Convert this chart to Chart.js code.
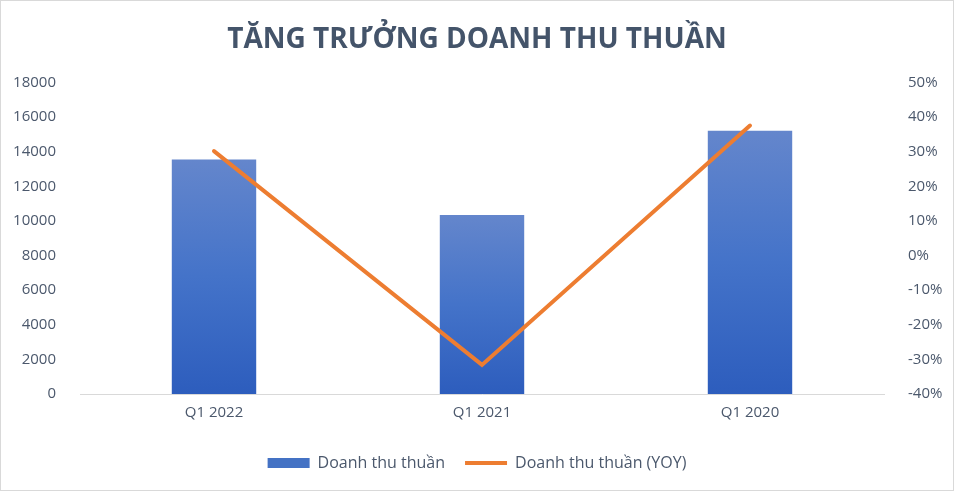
<!DOCTYPE html>
<html>
<head>
<meta charset="utf-8">
<script src="https://cdn.jsdelivr.net/npm/chart.js@4"></script>
<style>
  html, body { margin: 0; padding: 0; background: #fff; }
  #wrap { width: 954px; height: 491px; }
</style>
</head>
<body>
<div id="wrap"><canvas id="revenueChart" width="954" height="491"></canvas></div>
<script>
const categories = ["Q1 2022", "Q1 2021", "Q1 2020"];
const revenue = [13550, 10350, 15220];
const revenueYoy = [30.2, -31.6, 37.6];
const leftTicks = [0, 18000, 2000];
const rightTicks = [-40, 50, 10];

const FONT = "'Open Sans', 'Noto Sans', sans-serif";
const TEXT = "#4b586c";

// white background + thin frame like the office chart
const frame = {
  id: "frame",
  beforeDraw(chart) {
    const c = chart.ctx;
    c.save();
    c.fillStyle = "#fff";
    c.fillRect(0, 0, chart.width, chart.height);
    c.strokeStyle = "#d9d9d9";
    c.lineWidth = 1;
    c.strokeRect(0.5, 0.5, chart.width - 1, chart.height - 1);
    c.restore();
  }
};

const barFill = ctx => {
  const chart = ctx.chart;
  if (!chart.chartArea || ctx.type !== "data") return "#4472c4";
  const y = chart.scales.y;
  const top = y.getPixelForValue(ctx.raw);
  const bottom = y.getPixelForValue(0);
  const g = chart.ctx.createLinearGradient(0, top, 0, bottom);
  g.addColorStop(0, "#6486cc");
  g.addColorStop(0.5, "#4473c9");
  g.addColorStop(1, "#2d5dbd");
  return g;
};

new Chart(document.getElementById("revenueChart"), {
  type: "bar",
  data: {
    labels: categories,
    datasets: [
      {
        type: "line",
        label: "Doanh thu thuần (YOY)",
        data: revenueYoy,
        yAxisID: "y1",
        borderColor: "#ed7d31",
        backgroundColor: "#ed7d31",
        borderWidth: 4,
        borderCapStyle: "round",
        borderJoinStyle: "miter",
        pointRadius: 0,
        pointStyle: "line",
        tension: 0,
        order: 0
      },
      {
        label: "Doanh thu thuần",
        data: revenue,
        yAxisID: "y",
        backgroundColor: barFill,
        borderWidth: 0,
        pointStyle: "rect",
        categoryPercentage: 1,
        barPercentage: 0.315,
        order: 1
      }
    ]
  },
  plugins: [frame],
  options: {
    responsive: false,
    animation: false,
    layout: { padding: { left: 0, right: 0, top: 23, bottom: 10 } },
    plugins: {
      title: {
        display: true,
        text: "TĂNG TRƯỞNG DOANH THU THUẦN",
        color: "#44546a",
        font: { family: FONT, size: 28, weight: "bold" },
        padding: { top: 0, bottom: 26 }
      },
      legend: {
        position: "bottom",
        reverse: true,
        labels: {
          color: TEXT,
          font: { family: FONT, size: 16 },
          usePointStyle: true,
          pointStyleWidth: 42,
          boxHeight: 10,
          padding: 20,
          generateLabels(chart) {
            const items = Chart.defaults.plugins.legend.labels.generateLabels(chart);
            items.forEach(it => {
              if (it.pointStyle === "rect") { it.fillStyle = "#4472c4"; it.lineWidth = 0; }
              else { it.lineWidth = 4; it.strokeStyle = "#ed7d31"; }
            });
            return items;
          }
        }
      },
      tooltip: { enabled: false }
    },
    scales: {
      x: {
        grid: { display: false },
        border: { display: true, color: "#d9d9d9", width: 1 },
        ticks: { color: TEXT, font: { family: FONT, size: 15 }, padding: 2 },
        afterFit: s => { s.height = 41; }
      },
      y: {
        position: "left",
        min: leftTicks[0],
        max: leftTicks[1],
        grid: { display: false },
        border: { display: false },
        ticks: {
          stepSize: leftTicks[2],
          color: TEXT,
          font: { family: FONT, size: 15 },
          padding: 16,
          callback: v => String(v)
        },
        afterFit: s => { s.width = 80; }
      },
      y1: {
        position: "right",
        min: rightTicks[0],
        max: rightTicks[1],
        grid: { display: false },
        border: { display: false },
        ticks: {
          stepSize: rightTicks[2],
          color: TEXT,
          font: { family: FONT, size: 15 },
          padding: 16,
          callback: v => Math.round(v) + "%"
        },
        afterFit: s => { s.width = 70; }
      }
    }
  }
});
</script>
</body>
</html>
